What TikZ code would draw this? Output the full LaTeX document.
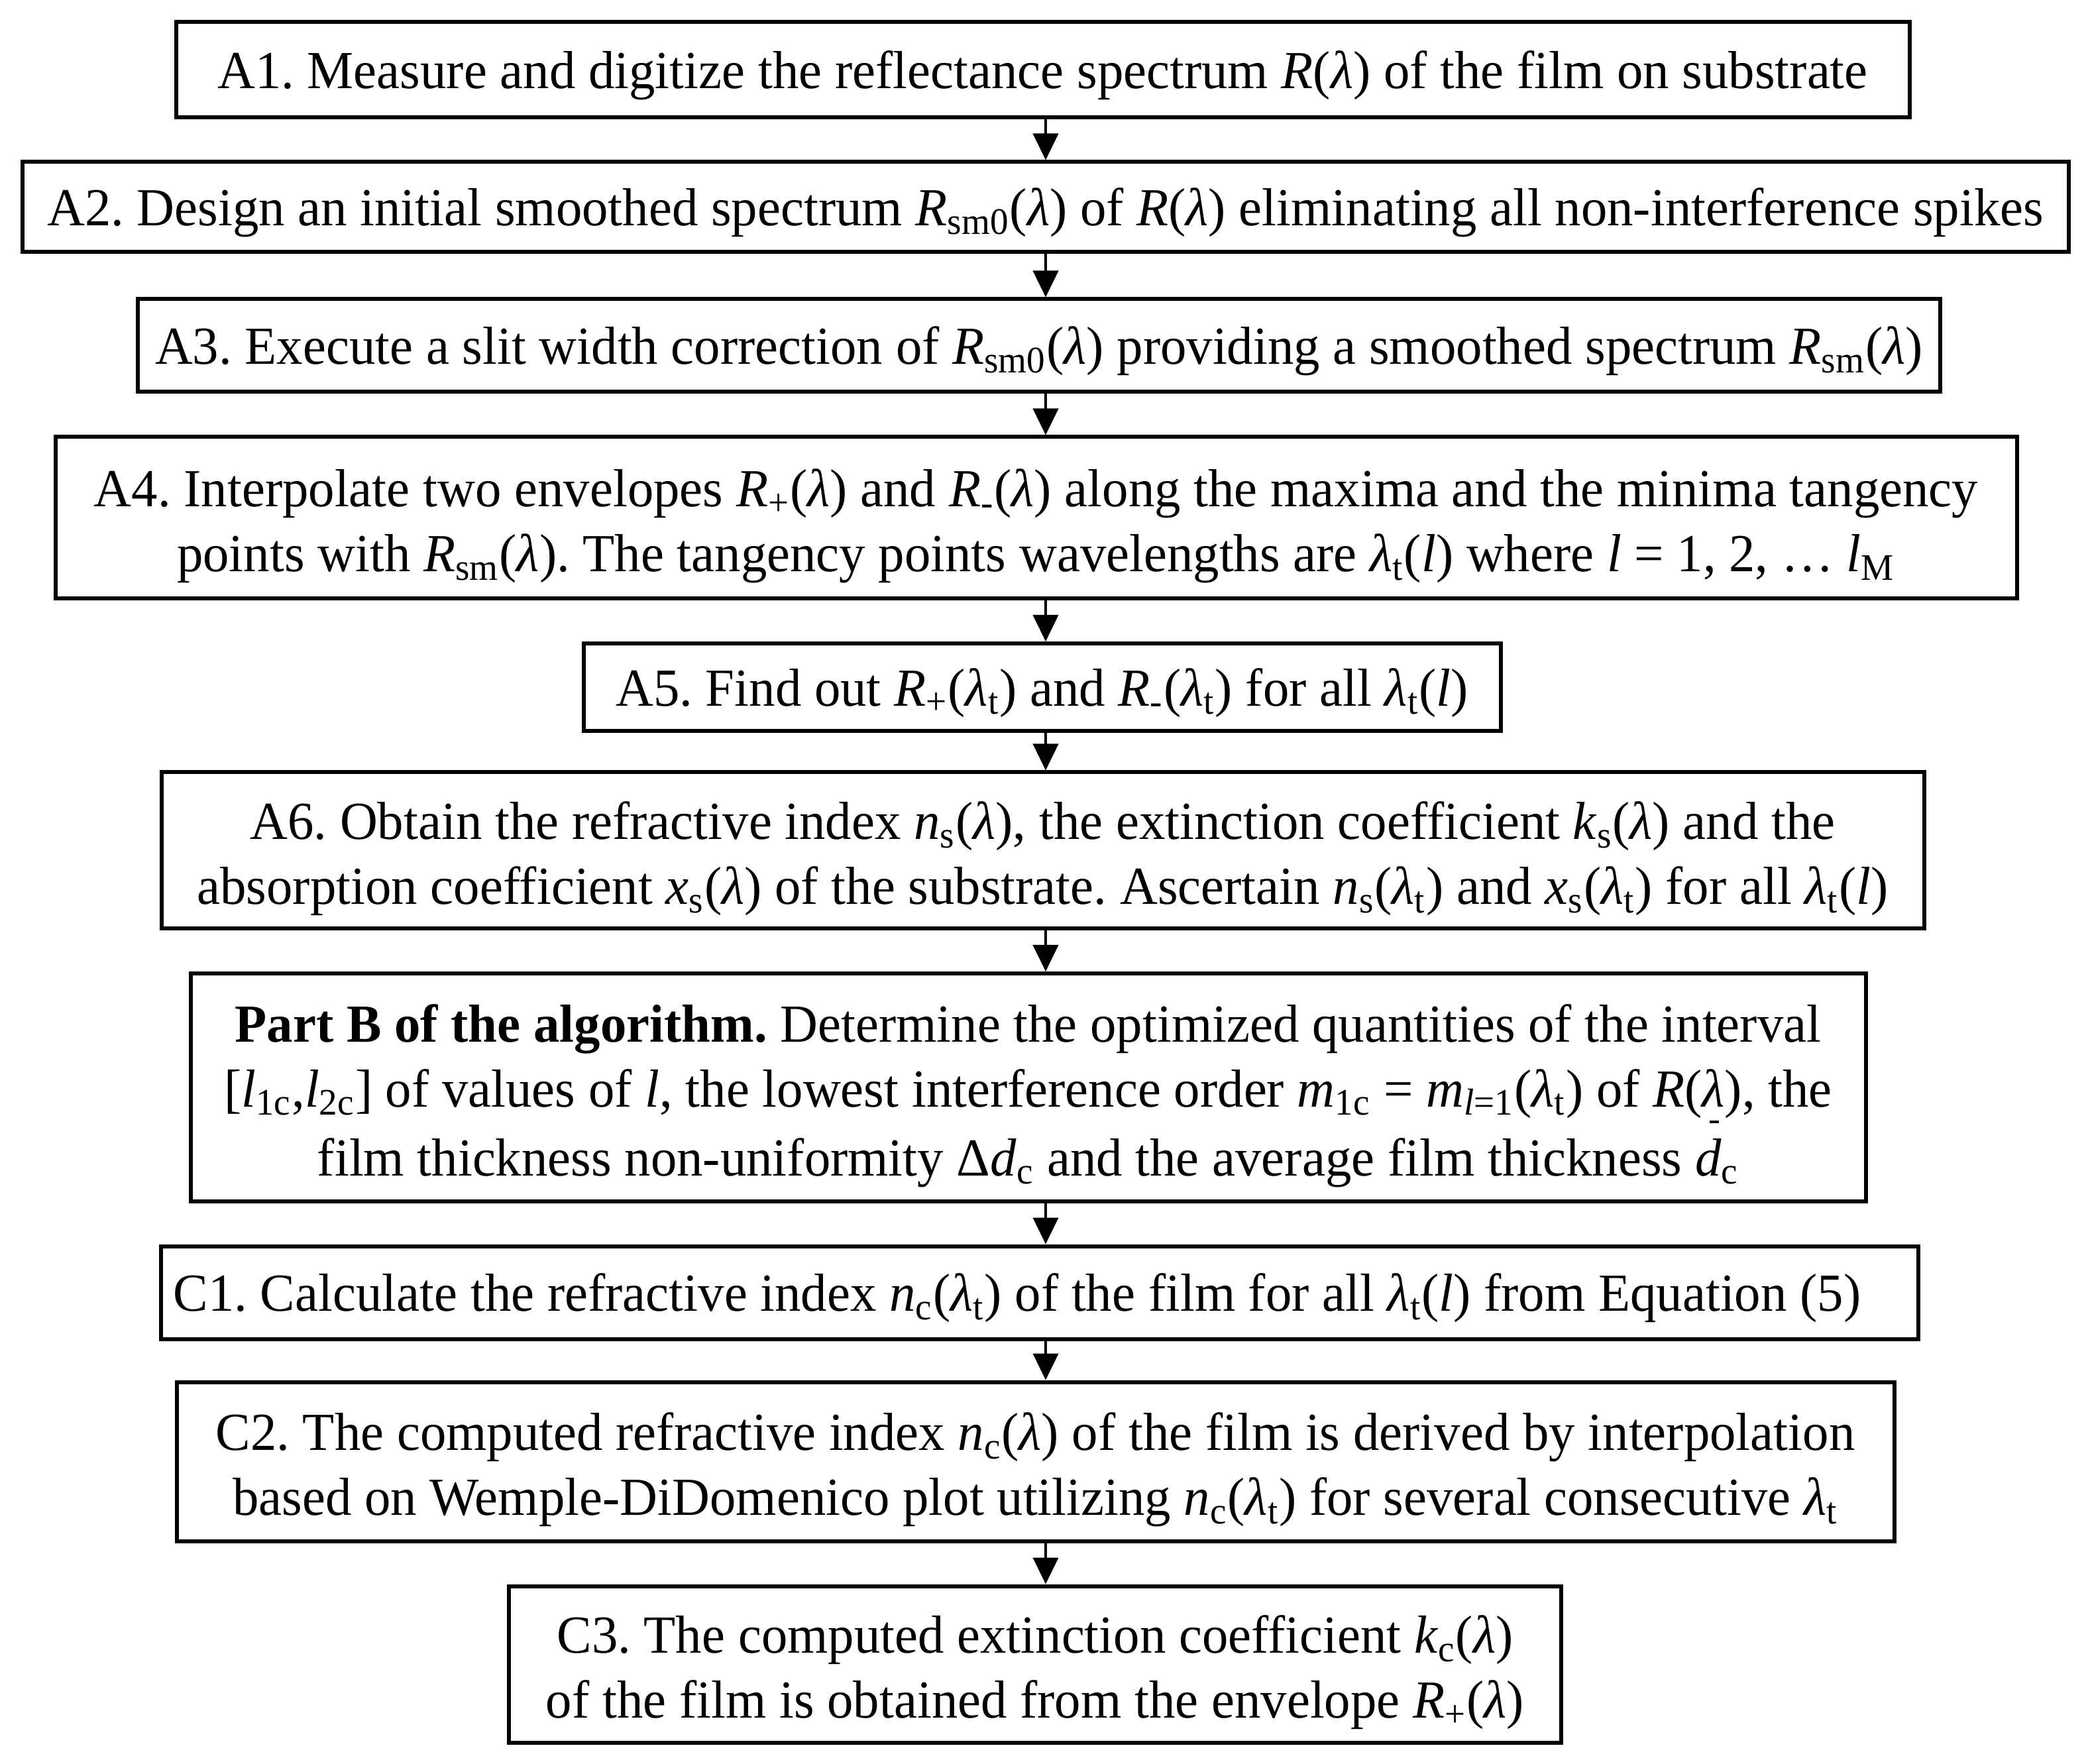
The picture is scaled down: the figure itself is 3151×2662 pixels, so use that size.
\documentclass[tikz,border=0pt]{standalone}
\usepackage{fontspec}
\setmainfont{Liberation Serif}[FakeStretch=0.975]
\usetikzlibrary{arrows.meta}
\frenchspacing
\newcommand\IT[1]{\textit{#1}}
\newcommand\Lm{\textit{λ}}
\newcommand\Sb[1]{\textsubscript{#1}}
\newcommand\ST{\rule{0pt}{20.5pt}}
\newcommand\dbar{\rlap{\kern0.27em\rule[0.98em]{0.17em}{0.045em}}\textit{d}}
\begin{document}
\begin{tikzpicture}[x=0.25pt,y=-0.25pt,
  box/.style={draw, line width=1.5pt, align=center, inner sep=0pt,
    font=\fontsize{20.2}{24.5}\selectfont,
    execute at begin node={\rule{0pt}{18.5pt}}},
  arr/.style={line width=1pt, -{Triangle[width=9.5pt,length=10pt]}}]
\useasboundingbox (0,0) rectangle (3151,2662);
\coordinate (ax) at (1578,0);
\node[box, minimum width=654pt, minimum height=36pt] (a1) at (1573.5,105.5)
  {A1. Measure and digitize the reflectance spectrum \IT{R}(\Lm) of the film on substrate};
\node[box, minimum width=772pt, minimum height=34pt] (a2) at (1577.5,312.5)
  {A2. Design an initial smoothed spectrum \IT{R}\Sb{sm0}(\Lm) of \IT{R}(\Lm) eliminating all non-interference spikes};
\node[box, minimum width=680pt, minimum height=35pt] (a3) at (1568,521.5)
  {A3. Execute a slit width correction of \IT{R}\Sb{sm0}(\Lm) providing a smoothed spectrum \IT{R}\Sb{sm}(\Lm)};
\node[box, minimum width=740pt, minimum height=61pt] (a4) at (1563.5,781.5)
  {\ST A4. Interpolate two envelopes \IT{R}\Sb{+}(\Lm) and \IT{R}\Sb{-}(\Lm) along the maxima and the minima tangency\\
   points with \IT{R}\Sb{sm}(\Lm). The tangency points wavelengths are \Lm\Sb{t}(\IT{l}) where \IT{l} = 1, 2, … \IT{l}\Sb{M}};
\node[box, minimum width=346pt, minimum height=33pt] (a5) at (1572.5,1037)
  {A5. Find out \IT{R}\Sb{+}(\Lm\Sb{t}) and \IT{R}\Sb{-}(\Lm\Sb{t}) for all \Lm\Sb{t}(\IT{l})};
\node[box, minimum width=665pt, minimum height=59pt] (a6) at (1573.5,1283.5)
  {\ST A6. Obtain the refractive index \IT{n}\Sb{s}(\Lm), the extinction coefficient \IT{k}\Sb{s}(\Lm) and the\\
   absorption coefficient \IT{x}\Sb{s}(\Lm) of the substrate. Ascertain \IT{n}\Sb{s}(\Lm\Sb{t}) and \IT{x}\Sb{s}(\Lm\Sb{t}) for all \Lm\Sb{t}(\IT{l})};
\node[box, minimum width=632pt, minimum height=86pt] (b) at (1551.5,1641)
  {\ST\textbf{Part B of the algorithm.} Determine the optimized quantities of the interval\\
   {[}\IT{l}\Sb{1c},\IT{l}\Sb{2c}] of values of \IT{l}, the lowest interference order \IT{m}\Sb{1c} = \IT{m}\Sb{\IT{l}=1}(\Lm\Sb{t}) of \IT{R}(\Lm), the\\
   film thickness non-uniformity Δ\IT{d}\Sb{c} and the average film thickness \dbar\Sb{c}};
\node[box, minimum width=663pt, minimum height=35pt] (c1) at (1569,1950.5)
  {C1. Calculate the refractive index \IT{n}\Sb{c}(\Lm\Sb{t}) of the film for all \Lm\Sb{t}(\IT{l}) from Equation (5)\hspace*{17pt}};
\node[box, minimum width=648pt, minimum height=60pt] (c2) at (1562.5,2205.5)
  {\ST C2. The computed refractive index \IT{n}\Sb{c}(\Lm) of the film is derived by interpolation\\
   based on Wemple-DiDomenico plot utilizing \IT{n}\Sb{c}(\Lm\Sb{t}) for several consecutive \Lm\Sb{t}};
\node[box, minimum width=397pt, minimum height=59pt] (c3) at (1562,2511.5)
  {\ST C3. The computed extinction coefficient \IT{k}\Sb{c}(\Lm)\\
   of the film is obtained from the envelope \IT{R}\Sb{+}(\Lm)};
\foreach \p/\q in {a1/a2,a2/a3,a3/a4,a4/a5,a5/a6,a6/b,b/c1,c1/c2,c2/c3}
  \draw[arr] (\p.south -| ax) -- (\q.north -| ax);
\end{tikzpicture}
\end{document}
